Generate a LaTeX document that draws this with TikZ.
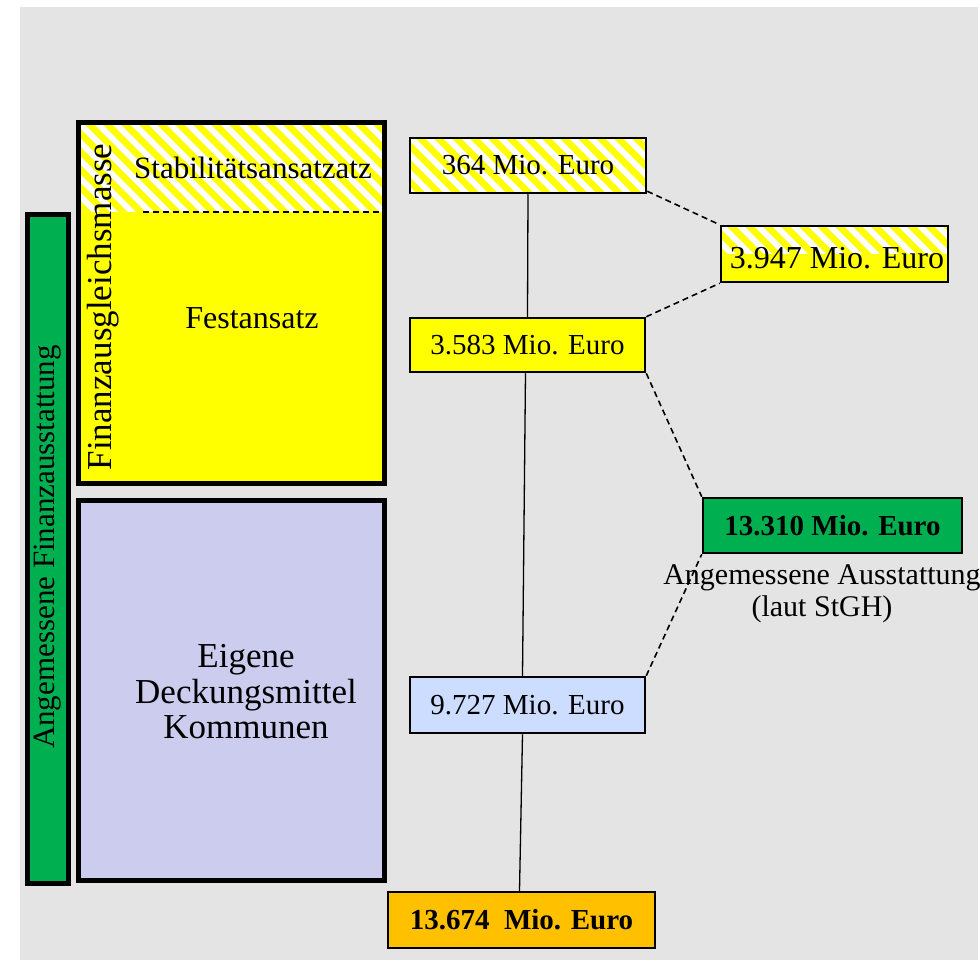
\documentclass[tikz,border=0pt]{standalone}
\usepackage{fontspec}
\setmainfont{Liberation Serif}
\definecolor{bg}{HTML}{E4E4E4}
\definecolor{grn}{HTML}{00B050}
\definecolor{lav}{HTML}{CCCCEE}
\definecolor{lblue}{HTML}{CCDDFF}
\definecolor{orng}{HTML}{FFC000}
\definecolor{yel}{HTML}{FFFF00}
\newcommand{\myhatch}{\foreach \k in {-10,...,26} \draw[yel, line width=6.5pt] ([xshift=\k*18pt, yshift=10pt]path picture bounding box.north west) -- ++(140pt,-140pt);}
\begin{document}
\begin{tikzpicture}[x=1pt,y=-1pt,
  every node/.style={font=\fontsize{29}{34}\selectfont, inner sep=0pt},
  bigbox/.style={draw=black, line width=5pt, rectangle},
  valbox/.style={draw=black, line width=2.5pt, rectangle},
  conn/.style={line width=1.3pt},
  dconn/.style={line width=1.6pt, dash pattern=on 6pt off 4pt},
  hatchbox/.style={fill=white, path picture={\myhatch}},
  halfhatch/.style={fill=yel, path picture={
     \begin{scope}
     \clip (path picture bounding box.north west) rectangle (path picture bounding box.east);
     \fill[white] (path picture bounding box.north west) rectangle (path picture bounding box.south east);
     \myhatch
     \end{scope}}},
  bighatch/.style={fill=yel, path picture={
     \begin{scope}
     \clip (path picture bounding box.north west) rectangle ([yshift=-89pt]path picture bounding box.north east);
     \fill[white] (path picture bounding box.north west) rectangle (path picture bounding box.south east);
     \myhatch
     \end{scope}}}
]
\useasboundingbox (0,0) rectangle (980,960);
\fill[bg] (20,7) rectangle (978,960);

% left column
\node[bigbox, fill=grn, minimum width=41pt, minimum height=668pt] (afa) at (47.5,549) {};
\node[rotate=90, font=\fontsize{31}{35}\selectfont] (afatext) at (47.5,547) {Angemessene Finanzausstattung};

\node[bigbox, bighatch, minimum width=306pt, minimum height=360pt] (fam) at (231,303) {};
\coordinate (dl) at (143,212);
\coordinate (dr) at (384,212);
\draw[dconn] (dl) -- (dr);
\node[rotate=90, font=\fontsize{35}{38}\selectfont] (famtext) at (103,307) {Finanzausgleichsmasse};
\node[font=\fontsize{31}{35}\selectfont] (stab) at (253,168) {Stabilitätsansatzatz};
\node[font=\fontsize{32}{35}\selectfont] (fest) at (252,318) {Festansatz};

\node[bigbox, fill=lav, minimum width=306pt, minimum height=380pt] (edm) at (231,690) {};
\node[align=center, font=\fontsize{35}{35.5}\selectfont] (edmtext) at (246,692) {Eigene\\Deckungsmittel\\Kommunen};

% value boxes
\node[valbox, hatchbox, minimum width=236pt, minimum height=55pt] (v364) at (528,165.5) {364 Mio. Euro};
\node[valbox, fill=yel, minimum width=235pt, minimum height=54pt] (v3583) at (527.5,345) {3.583 Mio. Euro};
\node[valbox, fill=lblue, minimum width=235pt, minimum height=56pt] (v9727) at (527.5,705) {9.727 Mio. Euro};
\node[valbox, fill=orng, minimum width=267pt, minimum height=56pt, font=\fontsize{29}{34}\selectfont\bfseries] (v13674) at (521.5,920) {13.674~ Mio. Euro};
\node[valbox, halfhatch, minimum width=227pt, minimum height=56pt] (v3947) at (834.5,254) {};
\node[font=\fontsize{32}{35}\selectfont] (v3947text) at (837,258) {3.947 Mio. Euro};
\node[valbox, fill=grn, minimum width=259pt, minimum height=55pt, font=\fontsize{29}{34}\selectfont\bfseries] (v13310) at (832.5,525.5) {13.310 Mio. Euro};
\node[align=center, font=\fontsize{30}{32}\selectfont] (lab) at (822,594) {Angemessene Ausstattung\\(laut StGH)};

% connectors
\draw[conn] (v364.south) -- (v3583.north);
\draw[conn] ([xshift=-2pt]v3583.south) -- ([xshift=-5pt]v9727.north);
\draw[conn] ([xshift=-5pt]v9727.south) -- ([xshift=-2pt]v13674.north);
\draw[dconn] ([yshift=3pt]v364.south east) -- (v3947.north west);
\draw[dconn] (v3583.north east) -- (v3947.south west);
\draw[dconn] (v3583.south east) -- (v13310.north west);
\draw[dconn] (v9727.north east) -- (v13310.south west);
\end{tikzpicture}
\end{document}
